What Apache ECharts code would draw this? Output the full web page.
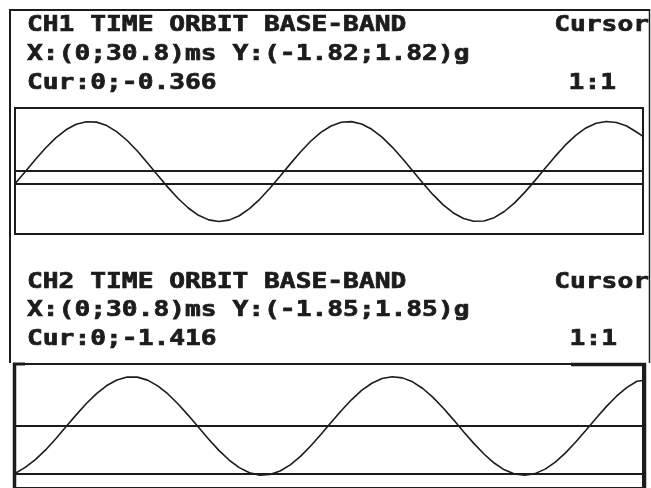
<!DOCTYPE html>
<html>
<head>
<meta charset="utf-8">
<script src="https://cdn.jsdelivr.net/npm/echarts@6/dist/echarts.min.js"></script>
<style>
html, body { margin: 0; padding: 0; background: #fff; }
#main { width: 651px; height: 488px; }
</style>
</head>
<body>
<div id="main"></div>
<script>
// sample times (ms), read every 0.5 ms along the trace
var times = [0, 0.5, 1, 1.5, 2, 2.5, 3, 3.5, 4, 4.5, 5, 5.5, 6, 6.5, 7, 7.5, 8, 8.5, 9, 9.5,
    10, 10.5, 11, 11.5, 12, 12.5, 13, 13.5, 14, 14.5, 15, 15.5, 16, 16.5, 17, 17.5, 18, 18.5, 19, 19.5,
    20, 20.5, 21, 21.5, 22, 22.5, 23, 23.5, 24, 24.5, 25, 25.5, 26, 26.5, 27, 27.5, 28, 28.5, 29, 29.5,
    30, 30.5, 30.8];

// CH1 acceleration (g)
var ch1Values = [-0.366, -0.022, 0.332, 0.666, 0.957, 1.190, 1.349, 1.424, 1.412, 1.312,
    1.132, 0.881, 0.576, 0.234, -0.122, -0.473, -0.795, -1.069, -1.280, -1.412,
    -1.460, -1.419, -1.293, -1.088, -0.818, -0.499, -0.151, 0.206, 0.550, 0.859,
    1.114, 1.301, 1.407, 1.427, 1.358, 1.205, 0.978, 0.691, 0.360, 0.006,
    -0.349, -0.684, -0.977, -1.212, -1.374, -1.453, -1.444, -1.348, -1.170, -0.922,
    -0.618, -0.278, 0.078, 0.429, 0.753, 1.030, 1.243, 1.379, 1.430, 1.400,
    1.300, 1.120, 1.000];

// CH2 acceleration (g)
var ch2Values = [-1.416, -1.235, -1.004, -0.714, -0.381, -0.025, 0.332, 0.670, 0.968, 1.207,
    1.374, 1.460, 1.458, 1.369, 1.198, 0.956, 0.657, 0.318, -0.040, -0.395,
    -0.727, -1.015, -1.243, -1.396, -1.466, -1.448, -1.344, -1.160, -0.906, -0.598,
    -0.254, 0.104, 0.457, 0.782, 1.061, 1.276, 1.415, 1.469, 1.436, 1.317,
    1.119, 0.854, 0.539, 0.191, -0.169, -0.518, -0.836, -1.105, -1.307, -1.431,
    -1.470, -1.421, -1.287, -1.076, -0.801, -0.478, -0.126, 0.233, 0.578, 0.889,
    1.146, 1.335, 1.360];

var xRange = [0, 30.8];
var ch1Range = [-1.82, 1.82];
var ch2Range = [-1.85, 1.85];
var ch1Cursor = -0.366;
var ch2Cursor = -1.416;

var ch1Lines = ['CH1 TIME ORBIT BASE-BAND', 'X:(0;30.8)ms Y:(-1.82;1.82)g', 'Cur:0;-0.366'];
var ch2Lines = ['CH2 TIME ORBIT BASE-BAND', 'X:(0;30.8)ms Y:(-1.85;1.85)g', 'Cur:0;-1.416'];

var ink = '#1c1c1c';
var lcdFont = 'bold 21px "DejaVu Sans Mono"';
var stretch = 1.25; // the screen font is wider than DejaVu Mono

function pairs(vals) {
    return times.map(function (t, i) { return [t, vals[i]]; });
}

function label(text, x, y, align) {
    return {
        type: 'text',
        x: x,
        y: y,
        scaleX: stretch,
        silent: true,
        style: {
            text: text,
            font: lcdFont,
            fill: ink,
            stroke: ink,
            lineWidth: 0.7,
            textAlign: align || 'left',
            textVerticalAlign: 'middle'
        }
    };
}

function seg(x1, y1, x2, y2, w) {
    return {
        type: 'line',
        silent: true,
        shape: { x1: x1, y1: y1, x2: x2, y2: y2 },
        style: { stroke: ink, lineWidth: w }
    };
}

function channelSeries(idx, vals, cursor) {
    return {
        type: 'line',
        xAxisIndex: idx,
        yAxisIndex: idx,
        data: pairs(vals),
        showSymbol: false,
        lineStyle: { color: ink, width: 1.6 },
        markLine: {
            silent: true,
            symbol: 'none',
            label: { show: false },
            lineStyle: { color: ink, width: 2, type: 'solid' },
            data: [{ yAxis: 0 }, { yAxis: cursor }]
        }
    };
}

var myChart = echarts.init(document.getElementById('main'));

var option = {
    animation: false,
    backgroundColor: '#fff',
    grid: [
        { left: 15, top: 108, width: 628, height: 126, show: true, borderColor: ink, borderWidth: 2 },
        { left: 15, top: 364, width: 628, height: 128, show: true, borderColor: ink, borderWidth: 2 }
    ],
    xAxis: [
        { type: 'value', gridIndex: 0, min: xRange[0], max: xRange[1], show: false },
        { type: 'value', gridIndex: 1, min: xRange[0], max: xRange[1], show: false }
    ],
    yAxis: [
        { type: 'value', gridIndex: 0, min: ch1Range[0], max: ch1Range[1], show: false },
        { type: 'value', gridIndex: 1, min: ch2Range[0], max: ch2Range[1], show: false }
    ],
    series: [
        channelSeries(0, ch1Values, ch1Cursor),
        channelSeries(1, ch2Values, ch2Cursor)
    ],
    graphic: [
        // outer screen frame
        seg(10, 10, 650, 10, 2),
        seg(10, 9, 10, 363, 2),
        seg(649.5, 9, 649.5, 363, 1.5),
        // CH1 header
        label(ch1Lines[0], 27, 26),
        label('Cursor', 649, 26, 'right'),
        label(ch1Lines[1], 27, 55),
        label(ch1Lines[2], 27, 84),
        label('1:1', 616, 84, 'right'),
        // CH2 header
        label(ch2Lines[0], 27, 283),
        label('Cursor', 649, 283, 'right'),
        label(ch2Lines[1], 27, 311),
        label(ch2Lines[2], 27, 340),
        label('1:1', 617, 340, 'right'),
        // CH2 is the active channel: heavier frame
        seg(14.5, 363, 14.5, 488, 3.5),
        seg(644.5, 363, 644.5, 488, 3.5),
        seg(13, 364, 25, 364, 3),
        seg(571, 364.5, 646, 364.5, 3.5)
    ]
};

myChart.setOption(option);
</script>
</body>
</html>
